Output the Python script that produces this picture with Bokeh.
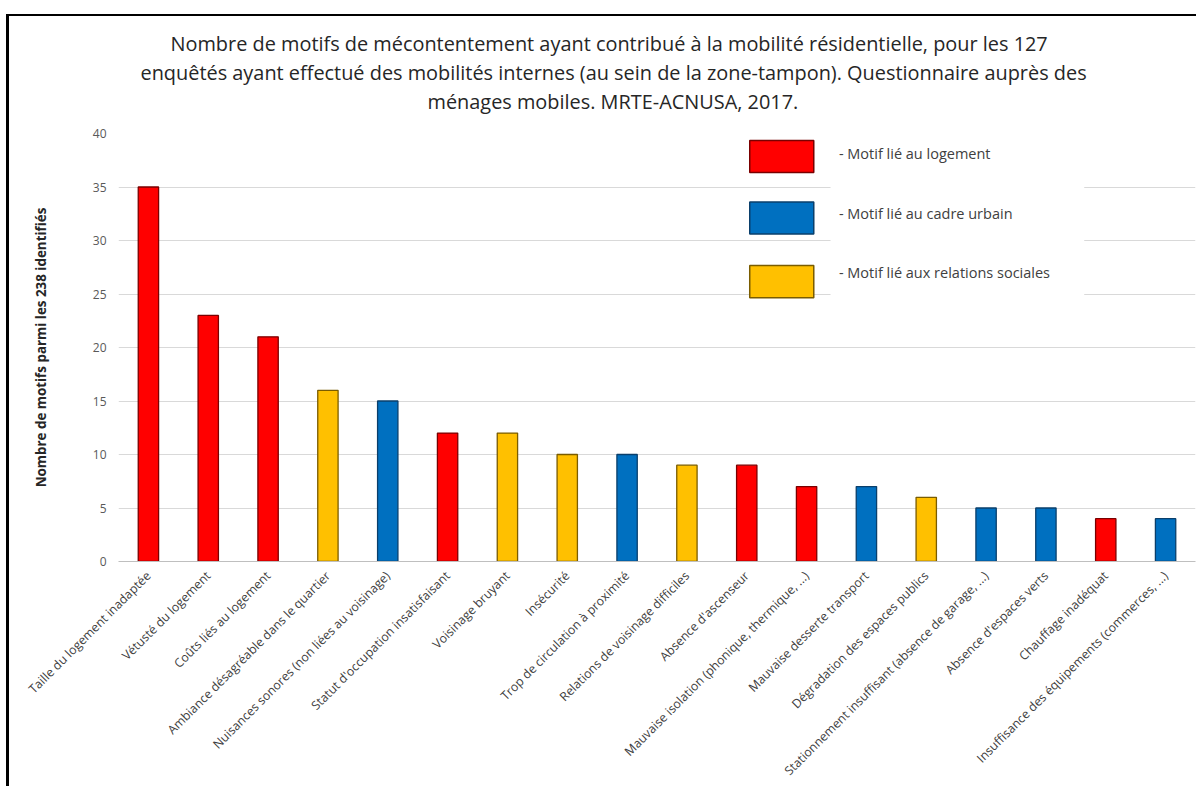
from bokeh.plotting import figure
from bokeh.models import FactorRange, Range1d, SingleIntervalTicker, Title, ColumnDataSource
from bokeh.core.properties import value
from bokeh.embed import file_html
from bokeh.resources import INLINE
import math

categories = [
    "Taille du logement inadaptée",
    "Vétusté du logement",
    "Coûts liés au logement",
    "Ambiance désagréable dans le quartier",
    "Nuisances sonores (non liées au voisinage)",
    "Statut d'occupation insatisfaisant",
    "Voisinage bruyant",
    "Insécurité",
    "Trop de circulation à proximité",
    "Relations de voisinage difficiles",
    "Absence d'ascenseur",
    "Mauvaise isolation (phonique, thermique, ...)",
    "Mauvaise desserte transport",
    "Dégradation des espaces publics",
    "Stationnement insuffisant (absence de garage, ...)",
    "Absence d'espaces verts",
    "Chauffage inadéquat",
    "Insuffisance des équipements (commerces, ...)",
]
values = [35, 23, 21, 16, 15, 12, 12, 10, 10, 9, 9, 7, 7, 6, 5, 5, 4, 4]
types = ["logement", "logement", "logement", "social", "urbain", "logement",
         "social", "social", "urbain", "social", "logement", "logement",
         "urbain", "social", "urbain", "urbain", "logement", "urbain"]

type_keys = ["logement", "urbain", "social"]
type_labels = ["- Motif lié au logement", "- Motif lié au cadre urbain",
               "- Motif lié aux relations sociales"]
fill = {"logement": "#FF0000", "urbain": "#0070C0", "social": "#FFC000"}
edge = {"logement": "#7a0000", "urbain": "#0a3f6b", "social": "#7a5c00"}

title_lines = [
    "Nombre de motifs de mécontentement ayant contribué à la mobilité résidentielle, pour les 127",
    "enquêtés ayant effectué des mobilités internes (au sein de la zone-tampon). Questionnaire auprès des",
    "ménages mobiles. MRTE-ACNUSA, 2017.",
]
y_label = "Nombre de motifs parmi les 238 identifiés"

FONT = "Open Sans"

p = figure(
    x_range=FactorRange(factors=categories, range_padding=0),
    y_range=Range1d(0, 40),
    width=1190, height=772,
    output_backend="svg", toolbar_location=None,
    min_border_left=109, min_border_right=4, min_border_top=117, min_border_bottom=227,
)
p.outline_line_color = None
p.background_fill_color = "white"
p.border_fill_color = "white"

# small gap between the title block and the plot area
p.add_layout(Title(text=" ", text_font_size="1px", standoff=16), "above")
title_offsets = [52, 22, 309]
for line, off in reversed(list(zip(title_lines, title_offsets))):
    p.add_layout(Title(text=line, align="left", text_font=FONT,
                       text_font_size="19.9px", text_font_style="normal",
                       text_color="#262626", standoff=0, offset=off), "above")

src = ColumnDataSource(dict(
    x=categories, top=values,
    fill=[fill[t] for t in types], edge=[edge[t] for t in types],
))
p.vbar(x="x", top="top", width=0.34, source=src, fill_color="fill",
       line_color="edge", line_width=1.3)

# legend
p.quad(left=[11.9], right=[16.14], bottom=[23.6], top=[38.6],
       fill_color="white", line_color=None)
box_tops = [39.35, 33.6, 27.66]
box_h = 3.0
p.quad(left=[10.55] * 3, right=[11.62] * 3,
       top=box_tops, bottom=[t - box_h for t in box_tops],
       fill_color=[fill[k] for k in type_keys], line_color=[edge[k] for k in type_keys],
       line_width=1.5)
p.text(x=[12.04] * 3, y=[38.1, 32.5, 27.0], text=type_labels,
       text_font=value(FONT), text_font_size="14.5px", text_color="#404040",
       text_baseline="middle", text_align="left")

p.yaxis.ticker = SingleIntervalTicker(interval=5)
p.yaxis.axis_line_color = None
p.yaxis.major_tick_line_color = None
p.yaxis.minor_tick_line_color = None
p.yaxis.major_label_text_font = FONT
p.yaxis.major_label_text_font_size = "12px"
p.yaxis.major_label_text_color = "#595959"
p.yaxis.major_label_standoff = 6
p.yaxis.axis_label = y_label
p.yaxis.axis_label_text_font = FONT
p.yaxis.axis_label_text_font_size = "13.4px"
p.yaxis.axis_label_text_font_style = "bold"
p.yaxis.axis_label_text_color = "#262626"
p.yaxis.axis_label_standoff = 40

p.xaxis.axis_line_color = "#bfbfbf"
p.xaxis.major_tick_line_color = None
p.xaxis.minor_tick_line_color = None
p.xaxis.major_label_orientation = math.pi / 4
p.xaxis.major_label_text_font = FONT
p.xaxis.major_label_text_font_size = "12.3px"
p.xaxis.major_label_text_color = "#404040"
p.xaxis.major_label_standoff = 6

p.xgrid.grid_line_color = None
p.ygrid.grid_line_color = "#d9d9d9"
p.ygrid.grid_line_width = 1

p.styles = {"border-left": "3px solid black", "border-top": "2px solid black",
            "margin-left": "6px", "margin-top": "14px"}

open("out.html", "w").write(file_html(p, INLINE))
